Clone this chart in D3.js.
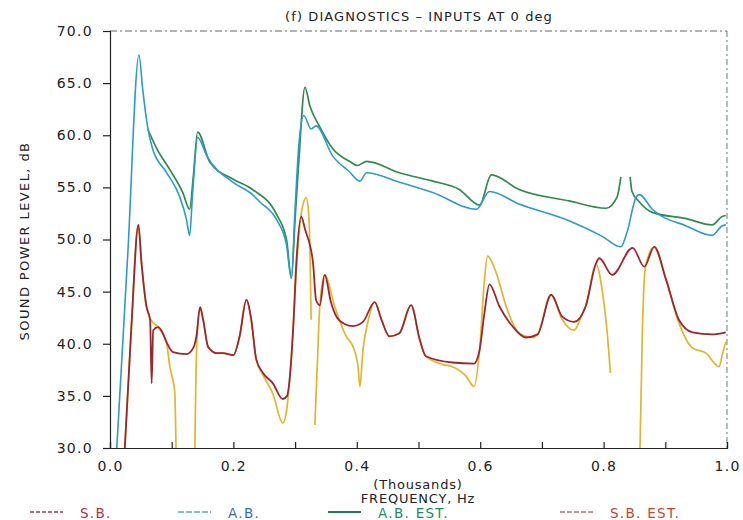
<!DOCTYPE html>
<html>
<head>
<meta charset="utf-8">
<script src="https://cdn.jsdelivr.net/npm/d3@7"></script>
<style>
  body { margin: 0; background: #fff; }
  text { font-family: "DejaVu Sans", sans-serif; fill: #222; }
</style>
</head>
<body>
<div id="chart"></div>
<script>
var width = 743;
var height = 520;

// frequency in thousands of Hz, level in dB (null = pen lifted)
var sbPoints = [[0.024,30],[0.035,42.0],[0.046,51.4],[0.051,47.8],[0.059,43.6],[0.065,42.3],[0.0675,36.2],[0.070,41.3],[0.078,41.6],
    [0.084,41.2],[0.092,40.1],[0.102,39.2],[0.124,39.0],[0.135,39.6],[0.140,40.7],[0.146,43.5],[0.151,42.3],[0.159,39.7],
    [0.173,39.1],[0.183,39.1],[0.200,38.9],[0.210,40.7],[0.221,44.2],[0.229,42.3],[0.237,38.5],[0.248,37.2],[0.264,36.2],
    [0.280,34.7],[0.287,35.0],[0.291,36.5],[0.297,41.6],[0.302,47.8],[0.310,52.2],[0.316,51.0],[0.329,47.8],[0.334,44.2],
    [0.340,43.7],[0.348,46.6],[0.358,44.0],[0.367,42.6],[0.380,41.9],[0.394,41.7],[0.410,42.1],[0.429,44.0],[0.440,42.3],
    [0.453,40.7],[0.469,41.0],[0.488,43.7],[0.502,40.4],[0.512,38.8],[0.555,38.2],[0.590,38.1],[0.599,39.4],[0.607,43.0],
    [0.615,45.7],[0.631,43.6],[0.652,41.7],[0.674,40.6],[0.693,40.9],[0.715,44.7],[0.733,42.6],[0.752,42.1],[0.771,43.6],
    [0.787,47.6],[0.793,48.2],[0.814,46.6],[0.847,49.2],[0.866,47.4],[0.882,49.3],[0.901,46.2],[0.922,42.3],[0.944,41.1],
    [0.976,40.9],[0.998,41.1]];

var abPoints = [[0.011,30],[0.029,48.8],[0.047,67.7],[0.053,64.4],[0.061,60.8],[0.069,58.7],[0.092,56.4],[0.113,54.1],[0.124,51.9],
    [0.129,50.4],[0.134,54.5],[0.142,59.8],[0.157,58.0],[0.199,55.5],[0.231,54.3],[0.243,53.6],[0.270,51.9],[0.286,49.5],
    [0.294,46.3],[0.300,53.0],[0.306,59.0],[0.314,61.9],[0.326,60.6],[0.334,60.9],[0.361,58.0],[0.388,56.5],[0.405,55.6],
    [0.416,56.4],[0.469,55.5],[0.523,54.5],[0.594,52.9],[0.615,54.6],[0.663,53.4],[0.744,51.8],[0.798,50.3],[0.828,49.3],
    [0.838,50.7],[0.853,54.1],[0.858,54.3],[0.879,52.9],[0.934,51.3],[0.976,50.4],[0.992,51.3],[0.998,51.4]];

var abEstPoints = [[0.061,60.6],[0.076,58.7],[0.097,56.7],[0.118,54.5],[0.129,52.9],[0.135,56.0],[0.142,60.3],[0.162,57.4],
    [0.199,55.8],[0.231,54.8],[0.270,52.4],[0.286,50.0],[0.294,46.3],[0.300,52.0],[0.306,57.5],[0.316,64.6],[0.324,62.8],[0.340,60.8],
    [0.361,58.7],[0.388,57.5],[0.401,57.1],[0.416,57.5],[0.469,56.4],[0.523,55.6],[0.566,54.8],[0.599,53.3],[0.618,56.2],
    [0.663,54.8],[0.744,53.7],[0.804,53.0],[0.822,54.1],[0.828,56.0],null,[0.843,56.0],[0.846,54.6],[0.858,53.6],
    [0.879,52.6],[0.934,52.0],[0.976,51.4],[0.992,52.2],[0.998,52.3]];

var sbEstPoints = [[0.024,30],[0.035,42.0],[0.046,51.4],[0.051,47.8],[0.059,43.6],[0.065,42.4],[0.078,41.6],[0.085,41.0],[0.092,40.0],
    [0.097,37.8],[0.102,36.5],[0.105,35.3],[0.107,30],null,[0.1375,30],[0.1405,39.7],[0.146,43.5],[0.151,42.3],[0.159,39.7],
    [0.173,39.1],[0.183,39.1],[0.200,38.9],[0.210,40.7],[0.221,44.2],[0.229,42.3],[0.237,38.5],[0.248,37.0],[0.264,35.2],
    [0.280,32.4],[0.286,33.5],[0.291,36.5],[0.297,41.6],[0.302,47.0],[0.310,52.5],[0.318,54.0],[0.322,52.5],[0.324,49.4],
    [0.326,42.3],null,[0.332,32.2],[0.336,38.0],[0.340,43.6],[0.348,46.6],[0.364,43.6],[0.383,40.7],[0.394,39.7],
    [0.402,37.8],[0.405,35.9],[0.410,39.4],[0.418,42.1],[0.429,44.0],[0.440,42.3],[0.453,40.7],[0.469,41.0],[0.488,43.7],
    [0.502,40.4],[0.512,38.8],[0.540,38.0],[0.555,37.8],[0.577,36.9],[0.590,35.9],[0.599,39.4],[0.607,46.2],[0.612,48.4],
    [0.626,46.8],[0.642,43.6],[0.663,41.0],[0.685,40.6],[0.693,40.9],[0.715,44.7],[0.733,42.3],[0.752,41.3],[0.765,42.8],
    [0.771,43.6],[0.788,47.6],[0.798,45.0],[0.805,41.6],[0.811,37.2],null,[0.859,30],[0.863,41.6],[0.868,47.4],[0.882,49.3],
    [0.901,46.2],[0.922,42.0],[0.944,39.6],[0.966,39.1],[0.987,37.8],[0.993,39.1],[0.998,40.2]];

var yTicks = [30, 35, 40, 45, 50, 55, 60, 65, 70];
var xTicks = [0, 0.1, 0.2, 0.3, 0.4, 0.5, 0.6, 0.7, 0.8, 0.9, 1.0];
var legendNames = ["S.B.", "A.B.", "A.B. EST.", "S.B. EST."];

var plotLeft = 110, plotRight = 727, plotTop = 31, plotBottom = 448;

var svg = d3.select("#chart")
    .append("svg")
    .attr("width", width)
    .attr("height", height);

var x = d3.scaleLinear().domain([0, 1]).range([plotLeft, plotRight]);
var y = d3.scaleLinear().domain([30, 70]).range([plotBottom, plotTop]);

svg.append("clipPath").attr("id", "plot")
    .append("rect")
    .attr("x", plotLeft).attr("y", plotTop - 2)
    .attr("width", plotRight - plotLeft).attr("height", plotBottom - plotTop + 2);

// frame: top and right edges are faint dashed
svg.append("line")
    .attr("x1", plotLeft).attr("x2", plotRight).attr("y1", plotTop).attr("y2", plotTop)
    .attr("stroke", "#666").attr("stroke-width", 1).attr("stroke-dasharray", "7,3,2,3");
svg.append("line")
    .attr("x1", plotRight).attr("x2", plotRight).attr("y1", plotTop).attr("y2", plotBottom)
    .attr("stroke", "#5f8378").attr("stroke-width", 1).attr("stroke-dasharray", "6,3,2,3");

var line = d3.line()
    .defined(function (d) { return d !== null; })
    .x(function (d) { return x(d[0]); })
    .y(function (d) { return y(d[1]); })
    .curve(d3.curveMonotoneX);

var curves = svg.append("g").attr("clip-path", "url(#plot)");

curves.append("path").datum(abEstPoints)
    .attr("fill", "none").attr("stroke", "#2f8a4c").attr("stroke-width", 1.7).attr("d", line);
curves.append("path").datum(abPoints)
    .attr("fill", "none").attr("stroke", "#2a9cc9").attr("stroke-width", 1.6).attr("d", line);
curves.append("path").datum(sbEstPoints)
    .attr("fill", "none").attr("stroke", "#e2b52c").attr("stroke-width", 1.7).attr("d", line);
curves.append("path").datum(sbPoints)
    .attr("fill", "none").attr("stroke", "#9c2630").attr("stroke-width", 1.8).attr("d", line);

// axes
var yAxis = d3.axisLeft(y)
    .tickValues(yTicks)
    .tickFormat(d3.format(".1f"))
    .tickSize(7)
    .tickPadding(10);

var xAxis = d3.axisBottom(x)
    .tickValues(xTicks)
    .tickFormat(function (d, i) { return i % 2 === 0 ? d3.format(".1f")(d) : ""; })
    .tickSize(-6)
    .tickPadding(13);

var gy = svg.append("g")
    .attr("transform", "translate(" + plotLeft + ",0)")
    .call(yAxis);
var gx = svg.append("g")
    .attr("transform", "translate(0," + plotBottom + ")")
    .call(xAxis);

[gx, gy].forEach(function (g) {
    g.select(".domain").attr("stroke", "#222").attr("stroke-width", 1.2);
    g.selectAll(".tick line").attr("stroke", "#222").attr("stroke-width", 1.2);
    g.selectAll(".tick text")
        .style("font-family", "DejaVu Sans, sans-serif")
        .style("font-size", "14px")
        .style("letter-spacing", "1.3px")
        .attr("fill", "#222");
});

// titles
svg.append("text")
    .attr("x", 419).attr("y", 21)
    .attr("text-anchor", "middle")
    .style("font-size", "13px")
    .style("letter-spacing", "1.1px")
    .text("(f) DIAGNOSTICS \u2013 INPUTS AT 0 deg");

svg.append("text")
    .attr("transform", "translate(29,241) rotate(-90)")
    .attr("text-anchor", "middle")
    .style("font-size", "13px")
    .style("letter-spacing", "1.4px")
    .text("SOUND POWER LEVEL, dB");

svg.append("text")
    .attr("x", 418).attr("y", 489)
    .attr("text-anchor", "middle")
    .style("font-size", "13px")
    .style("letter-spacing", "0.8px")
    .text("(Thousands)");

svg.append("text")
    .attr("x", 418).attr("y", 503)
    .attr("text-anchor", "middle")
    .style("font-size", "13px")
    .style("letter-spacing", "0.8px")
    .text("FREQUENCY, Hz");

// legend
var legendLineX = [30, 178, 328, 560];
var legendTextX = [80, 228, 378, 610];
var legendLine = ["#a33a4a", "#48aec4", "#237a50", "#c0705a"];
var legendText = ["#b0304e", "#3c6cb8", "#1f8a5c", "#c2462e"];
var legendDash = ["4,2", "6,2", null, "5,2"];
var legendWidth = [1.5, 1.3, 2, 1.3];

var legend = svg.append("g");
legend.selectAll("line")
    .data(legendNames)
    .enter()
    .append("line")
    .attr("x1", function (d, i) { return legendLineX[i]; })
    .attr("x2", function (d, i) { return legendLineX[i] + 33; })
    .attr("y1", 512).attr("y2", 512)
    .attr("stroke", function (d, i) { return legendLine[i]; })
    .attr("stroke-width", function (d, i) { return legendWidth[i]; })
    .attr("stroke-dasharray", function (d, i) { return legendDash[i]; });

legend.selectAll("text")
    .data(legendNames)
    .enter()
    .append("text")
    .attr("x", function (d, i) { return legendTextX[i]; })
    .attr("y", 518)
    .style("font-size", "13.5px")
    .style("letter-spacing", "1.3px")
    .style("fill", function (d, i) { return legendText[i]; })
    .text(function (d) { return d; });
</script>
</body>
</html>
